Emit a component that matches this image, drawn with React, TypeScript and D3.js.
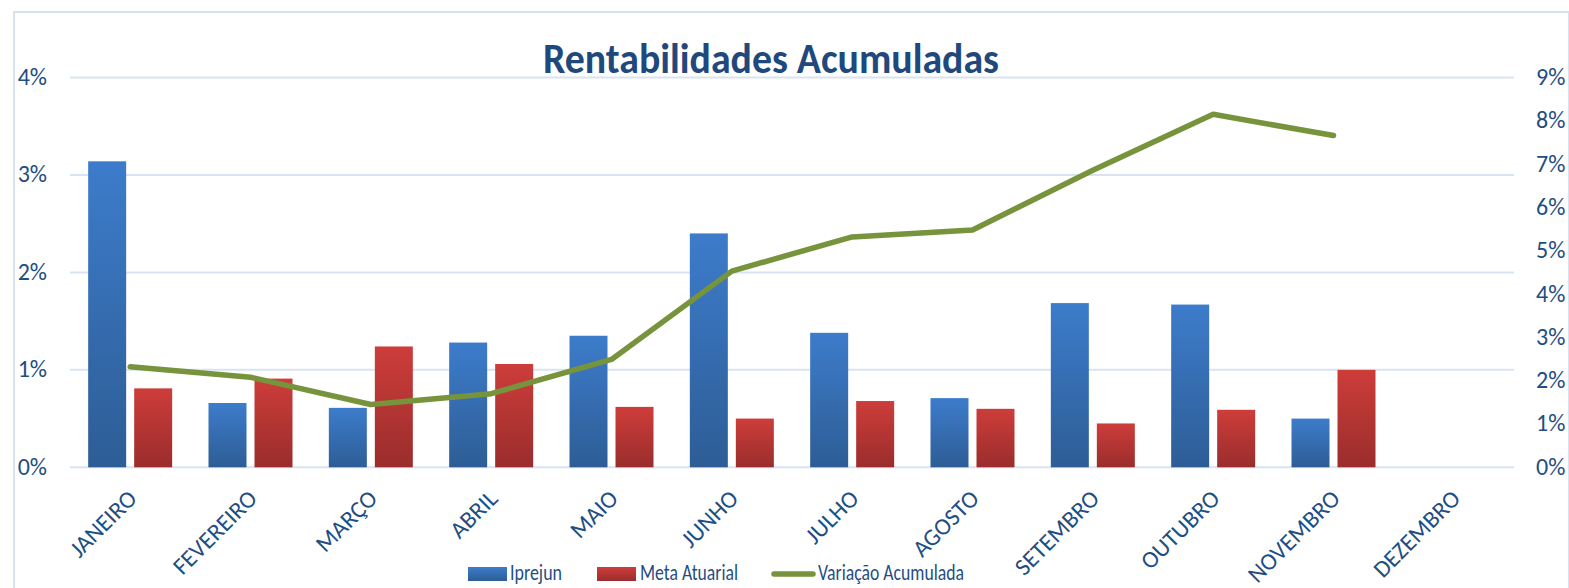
import React from "react";
import * as d3 from "d3";

const months = ["JANEIRO","FEVEREIRO","MARÇO","ABRIL","MAIO","JUNHO","JULHO","AGOSTO","SETEMBRO","OUTUBRO","NOVEMBRO","DEZEMBRO"];
const iprejun: (number|null)[] = [3.14, 0.66, 0.61, 1.28, 1.35, 2.40, 1.38, 0.71, 1.685, 1.67, 0.50, null];
const metaAtuarial: (number|null)[] = [0.81, 0.91, 1.24, 1.06, 0.62, 0.50, 0.68, 0.60, 0.45, 0.59, 1.00, null];
const variacaoAcumulada: (number|null)[] = [2.32, 2.08, 1.45, 1.70, 2.49, 4.53, 5.32, 5.48, 6.86, 8.15, 7.66, null];
const leftTicks = [0, 1, 2, 3, 4];
const rightTicks = [0, 1, 2, 3, 4, 5, 6, 7, 8, 9];
const seriesNames = ["Iprejun", "Meta Atuarial", "Variação Acumulada"];
const title = "Rentabilidades Acumuladas";

const W = 1569, H = 588;
const FONT = "Calibri, Carlito, 'Open Sans', sans-serif";
const TEXT = "#1F4E82";

export default function App() {
  const x = d3.scaleBand<string>().domain(months).range([70, 1514]).padding(0);
  const inner = d3.scaleBand<string>().domain(["a", "b"]).range([0, 84]).paddingInner(0.174).paddingOuter(0);
  const yL = d3.scaleLinear().domain([0, 4]).range([467.3, 77.5]);
  const yR = d3.scaleLinear().domain([0, 9]).range([467.3, 77.5]);
  const cx = (m: string) => (x(m) as number) + x.bandwidth() / 2;
  const bw = inner.bandwidth();

  const line = d3.line<number|null>()
    .defined(d => d !== null)
    .x((_, i) => cx(months[i]))
    .y(d => yR(d as number));

  const legendW = [52, 98, 146];

  return (
    <svg width={W} height={H} style={{ position: "fixed", left: 0, top: 0, background: "#fff" }}>
      <defs>
        <linearGradient id="gBlue" x1="0" y1="0" x2="0" y2="1">
          <stop offset="0" stopColor="#3D7CCB" />
          <stop offset="1" stopColor="#2D5D95" />
        </linearGradient>
        <linearGradient id="gRed" x1="0" y1="0" x2="0" y2="1">
          <stop offset="0" stopColor="#CD3D3A" />
          <stop offset="1" stopColor="#9A2D2C" />
        </linearGradient>
      </defs>
      <rect x={0} y={0} width={W} height={H} fill="#fff" />
      <rect x={14} y={12} width={W - 14} height={H} fill="none" stroke="#D6E2F2" strokeWidth={2} />

      <text x={771} y={73} textAnchor="middle" fontFamily={FONT} fontWeight="bold" fontSize={43} fill="#1F497D"
        textLength={456} lengthAdjust="spacingAndGlyphs">{title}</text>

      {leftTicks.map(t => (
        <g key={"l" + t}>
          <line x1={70} x2={1514} y1={yL(t)} y2={yL(t)} stroke="#D9E4F2" strokeWidth={2} />
          <text x={47} y={yL(t) + 7.5} textAnchor="end" fontFamily={FONT} fontSize={24} fill={TEXT}>{t}%</text>
        </g>
      ))}
      {rightTicks.map(t => (
        <text key={"r" + t} x={1536} y={yR(t) + 7.5} textAnchor="start" fontFamily={FONT} fontSize={24} fill={TEXT}>{t}%</text>
      ))}

      {months.map((m, i) => (
        <g key={m}>
          {iprejun[i] !== null && (
            <rect x={cx(m) - 42 + (inner("a") as number)} y={yL(iprejun[i] as number)} width={bw}
              height={yL(0) - yL(iprejun[i] as number)} fill="url(#gBlue)" />
          )}
          {metaAtuarial[i] !== null && (
            <rect x={cx(m) - 42 + (inner("b") as number)} y={yL(metaAtuarial[i] as number)} width={bw}
              height={yL(0) - yL(metaAtuarial[i] as number)} fill="url(#gRed)" />
          )}
        </g>
      ))}

      <path d={line(variacaoAcumulada) || ""} fill="none" stroke="#77933C" strokeWidth={5.5}
        strokeLinejoin="round" strokeLinecap="round" />

      {months.map(m => (
        <text key={"x" + m} transform={`translate(${cx(m) + 8},${500}) rotate(-45)`} textAnchor="end"
          fontFamily={FONT} fontSize={24} fill={TEXT}>{m}</text>
      ))}

      <g fontFamily={FONT} fontSize={21.5} fill={TEXT}>
        <rect x={468} y={567} width={39} height={14} fill="url(#gBlue)" />
        <text x={510} y={580} textLength={legendW[0]} lengthAdjust="spacingAndGlyphs">{seriesNames[0]}</text>
        <rect x={597} y={567} width={39} height={14} fill="url(#gRed)" />
        <text x={640} y={580} textLength={legendW[1]} lengthAdjust="spacingAndGlyphs">{seriesNames[1]}</text>
        <line x1={774} x2={813} y1={574} y2={574} stroke="#77933C" strokeWidth={5.5} strokeLinecap="round" />
        <text x={818} y={580} textLength={legendW[2]} lengthAdjust="spacingAndGlyphs">{seriesNames[2]}</text>
      </g>
    </svg>
  );
}
